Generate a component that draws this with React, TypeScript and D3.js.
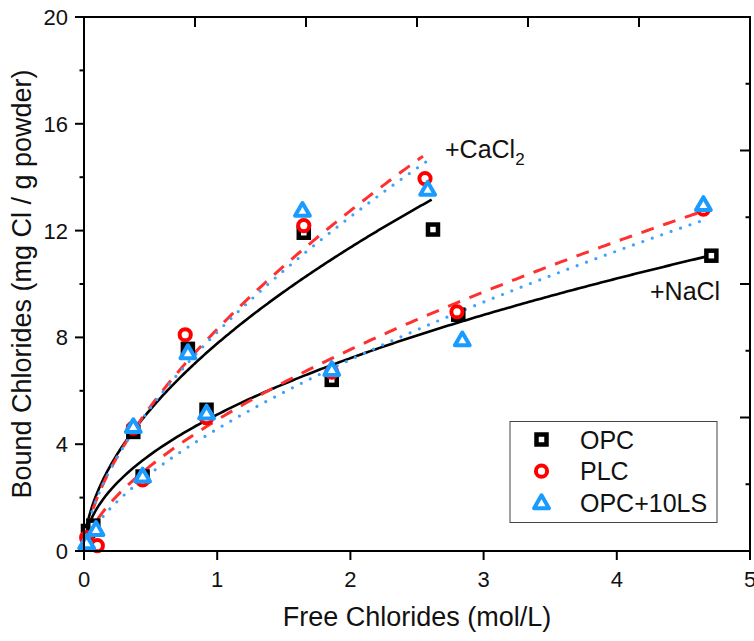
import React from "react";
import * as d3 from "d3";

// ---------- data ----------
const seriesNames = ["OPC", "PLC", "OPC+10LS"];

// CaCl2 exposure (upper group)
const cacl2OPC: [number, number][] = [[0.03, 0.75], [0.37, 4.46], [0.78, 7.57], [1.65, 11.92], [2.62, 12.04]];
const cacl2PLC: [number, number][] = [[0.02, 0.5], [0.37, 4.6], [0.76, 8.1], [1.65, 12.19], [2.56, 13.95]];
const cacl2LS: [number, number][] = [[0.02, 0.3], [0.37, 4.65], [0.78, 7.42], [1.64, 12.75], [2.58, 13.54]];

// NaCl exposure (lower group)
const naclOPC: [number, number][] = [[0.07, 0.95], [0.44, 2.79], [0.92, 5.29], [1.86, 6.41], [2.81, 8.85], [4.71, 11.06]];
const naclPLC: [number, number][] = [[0.1, 0.2], [0.44, 2.66], [0.92, 4.99], [1.86, 6.7], [2.8, 8.96], [4.65, 12.8]];
const naclLS: [number, number][] = [[0.09, 0.8], [0.44, 2.8], [0.92, 5.16], [1.86, 6.79], [2.84, 7.9], [4.65, 12.97]];

// Freundlich fit parameters [a, b, xStart, xEnd] for y = a * x^b
const fitCaOPC = [7.77, 0.549, 0.02, 2.61];
const fitCaPLC = [8.31, 0.617, 0.02, 2.545];
const fitCaLS = [8.2, 0.61, 0.02, 2.57];
const fitNaOPC = [5.11, 0.499, 0.02, 4.7];
const fitNaPLC = [4.91, 0.62, 0.02, 4.62];
const fitNaLS = [4.57, 0.649, 0.02, 4.64];

const xTicks = [0, 1, 2, 3, 4, 5];
const yTicks = [0, 4, 8, 12, 16, 20];
const yMinorTicks = [2, 6, 10, 14, 18];
const topTicks = [0, 1, 2, 3, 4, 5, 6];
const rightTicks = [0, 1, 2, 3, 4, 5, 6, 7, 8];

const xTitle = "Free Chlorides (mol/L)";
const yTitle = "Bound Chlorides (mg Cl / g powder)";

// ---------- layout ----------
const W = 754, H = 641;
const L = 84, R = 750, T = 17, B = 551;
const FONT = "'Liberation Sans', Arial, sans-serif";

const COL_OPC = "#000000";
const COL_PLC = "#ff0000";
const COL_LS = "#1a9bff";
const COL_PLC_LINE = "#ff3030";
const COL_LS_LINE = "#3aa2ff";

export default function App() {
  const x = d3.scaleLinear().domain([0, 5]).range([L, R]);
  const y = d3.scaleLinear().domain([0, 20]).range([B, T]);
  const xTop = d3.scaleLinear().domain([0, 6]).range([L, R]);
  const yRight = d3.scaleLinear().domain([0, 8]).range([B, T]);

  const line = d3.line<[number, number]>().x(d => x(d[0])).y(d => y(d[1])).curve(d3.curveLinear);

  const fitPath = (p: number[]) => {
    const [a, b, x0, x1] = p;
    const xs = d3.range(0, 201).map(i => x0 + ((x1 - x0) * i) / 200);
    return line(xs.map(v => [v, a * Math.pow(v, b)] as [number, number])) || "";
  };

  const square = (cx: number, cy: number, key: string) => (
    <rect key={key} x={cx - 5} y={cy - 5} width={10} height={10} fill="white" stroke={COL_OPC} strokeWidth={4.5} />
  );
  const circle = (cx: number, cy: number, key: string) => (
    <circle key={key} cx={cx} cy={cy} r={5.6} fill="white" stroke={COL_PLC} strokeWidth={4} />
  );
  const triPath = d3.symbol().type(d3.symbolTriangle).size(95)() || "";
  const triangle = (cx: number, cy: number, key: string) => (
    <path key={key} d={triPath} transform={`translate(${cx},${cy + 1})`} fill="white" stroke={COL_LS} strokeWidth={4} strokeLinejoin="round" />
  );

  const fits = [
    { p: fitCaOPC, c: COL_OPC, dash: undefined, w: 2.6, cap: "butt" },
    { p: fitNaOPC, c: COL_OPC, dash: undefined, w: 2.6, cap: "butt" },
    { p: fitCaPLC, c: COL_PLC_LINE, dash: "13 10", w: 3, cap: "butt" },
    { p: fitNaPLC, c: COL_PLC_LINE, dash: "13 10", w: 3, cap: "butt" },
    { p: fitCaLS, c: COL_LS_LINE, dash: "0 10", w: 3.2, cap: "round" },
    { p: fitNaLS, c: COL_LS_LINE, dash: "0 10", w: 3.2, cap: "round" },
  ];

  return (
    <svg width={W} height={H} style={{ position: "absolute", left: 0, top: 0, background: "white" }} fontFamily={FONT}>
      <rect x={0} y={0} width={W} height={H} fill="white" />

      {/* fit curves */}
      {fits.map((f, i) => (
        <path key={"fit" + i} d={fitPath(f.p)} fill="none" stroke={f.c} strokeWidth={f.w}
          strokeDasharray={f.dash} strokeLinecap={f.cap as any} />
      ))}

      {/* markers */}
      {[...cacl2OPC, ...naclOPC].map((d, i) => square(x(d[0]), y(d[1]), "s" + i))}
      {[...cacl2PLC, ...naclPLC].map((d, i) => circle(x(d[0]), y(d[1]), "c" + i))}
      {[...cacl2LS, ...naclLS].map((d, i) => triangle(x(d[0]), y(d[1]), "t" + i))}

      {/* frame */}
      <rect x={L} y={T} width={R - L} height={B - T} fill="none" stroke="black" strokeWidth={2} />

      {/* bottom axis ticks + labels */}
      {xTicks.map(t => (
        <g key={"xt" + t}>
          <line x1={x(t)} x2={x(t)} y1={B} y2={B + 9} stroke="black" strokeWidth={2} />
          <text x={x(t)} y={587} fontSize={22} textAnchor="middle" fill="#111">{t}</text>
        </g>
      ))}
      {/* top axis ticks (inward) */}
      {topTicks.map(t => (
        <line key={"tt" + t} x1={xTop(t)} x2={xTop(t)} y1={T} y2={T + 10} stroke="black" strokeWidth={2} />
      ))}
      {/* left axis */}
      {yTicks.map(t => (
        <g key={"yt" + t}>
          <line x1={L - 9} x2={L} y1={y(t)} y2={y(t)} stroke="black" strokeWidth={2} />
          <text x={68} y={y(t)} dy="0.36em" fontSize={22} textAnchor="end" fill="#111">{t}</text>
        </g>
      ))}
      {yMinorTicks.map(t => (
        <line key={"ym" + t} x1={L - 4.5} x2={L} y1={y(t)} y2={y(t)} stroke="black" strokeWidth={2} />
      ))}
      {/* right axis ticks (inward) */}
      {rightTicks.map(t => (
        <line key={"rt" + t} x1={R - (t % 2 === 0 ? 10 : 4.5)} x2={R} y1={yRight(t)} y2={yRight(t)} stroke="black" strokeWidth={2} />
      ))}

      {/* axis titles */}
      <text x={417} y={626} fontSize={27} textAnchor="middle" fill="#111">{xTitle}</text>
      <text transform={`translate(31,${(T + B) / 2}) rotate(-90)`} fontSize={27} textAnchor="middle" fill="#111">{yTitle}</text>

      {/* annotations */}
      <text x={445} y={158} fontSize={25} fill="#111">+CaCl<tspan fontSize={17} dy={7}>2</tspan></text>
      <text x={650} y={300} fontSize={25} fill="#111">+NaCl</text>

      {/* legend */}
      <rect x={510} y={421.5} width={207} height={101} fill="white" stroke="#444" strokeWidth={1} />
      {seriesNames.map((name, i) => {
        const cy = 439.5 + i * 31.7;
        const mk = i === 0 ? square(541.5, cy, "lg0") : i === 1 ? circle(541.5, cy, "lg1") : triangle(541.5, cy, "lg2");
        return (
          <g key={"lg" + i}>
            {mk}
            <text x={580} y={cy} dy="0.36em" fontSize={25} fill="#111">{name}</text>
          </g>
        );
      })}
    </svg>
  );
}
